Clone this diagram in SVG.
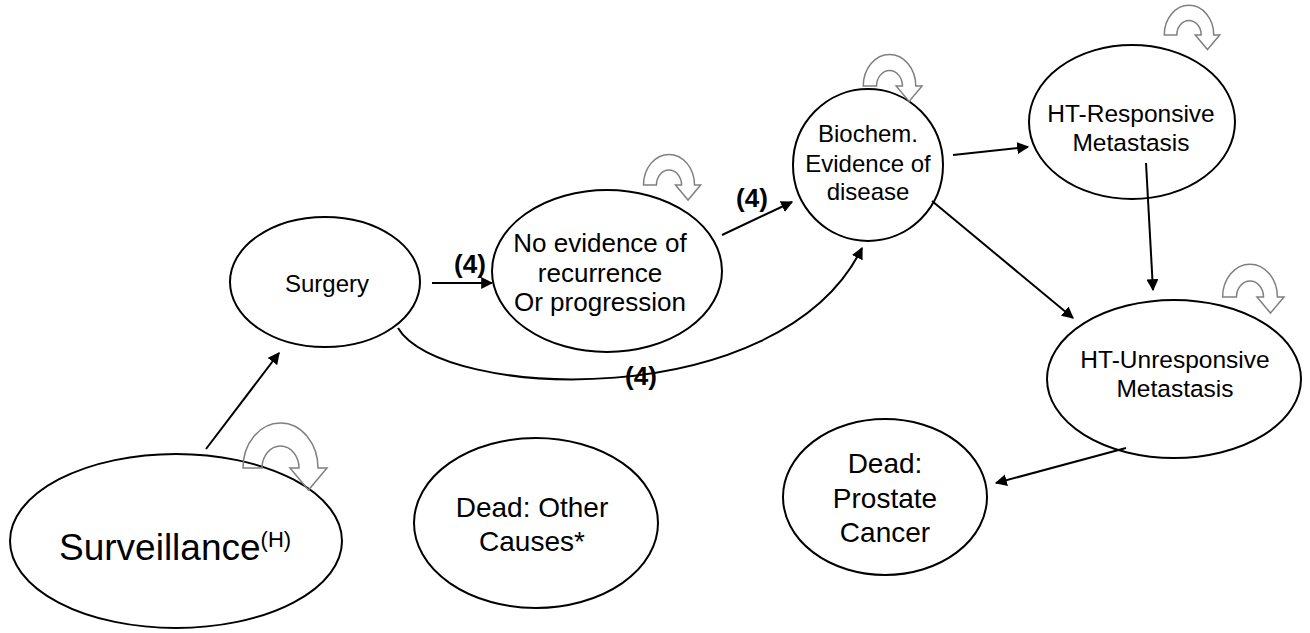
<svg xmlns="http://www.w3.org/2000/svg" xmlns:xlink="http://www.w3.org/1999/xlink" width="1310" height="633" viewBox="0 0 1310 633">
<style>
.node{fill:#fff;stroke:#000;stroke-width:2}
.t{font-family:"Liberation Sans",Arial,sans-serif;fill:#000;text-anchor:middle}
.lbl{font-family:"Liberation Sans",Arial,sans-serif;font-weight:bold;font-size:26px;fill:#000;text-anchor:middle}
.edge{fill:none;stroke:#000;stroke-width:2}
.loop{fill:none;stroke:#808080;stroke-width:1.5}
</style>
<defs>
<marker id="ah" viewBox="0 0 10 10" refX="9" refY="5" markerWidth="6" markerHeight="6" markerUnits="strokeWidth" orient="auto">
<path d="M0,0 L10,5 L0,10 Z" fill="#000"/>
</marker>
<path id="uturn" d="M-37.5,0 A37.5,45 0 0 1 37.5,0 L46.5,0 L28,22 L9.5,0 L18.5,0 A18.5,22 0 0 0 -18.5,0 Z" vector-effect="non-scaling-stroke"/>
</defs>
<rect width="1310" height="633" fill="#fff"/>

<g id="node-surveillance">
<ellipse class="node" cx="176" cy="541" rx="166" ry="87"/>
<text class="t" x="59" y="560" font-size="37" style="text-anchor:start">Surveillance<tspan font-size="22" dy="-13">(H)</tspan></text>
</g>
<g id="node-surgery">
<ellipse class="node" cx="325" cy="282" rx="95" ry="65"/>
<text class="t" x="327" y="292" font-size="24">Surgery</text>
</g>
<g id="node-noevidence">
<ellipse class="node" cx="607" cy="271" rx="115" ry="81"/>
<text class="t" x="600" y="252" font-size="26">No evidence of</text>
<text class="t" x="600" y="282" font-size="26">recurrence</text>
<text class="t" x="600" y="311" font-size="26">Or progression</text>
</g>
<g id="node-biochem">
<ellipse class="node" cx="868" cy="165" rx="75" ry="76"/>
<text class="t" x="868" y="142" font-size="24">Biochem.</text>
<text class="t" x="868" y="172" font-size="24">Evidence of</text>
<text class="t" x="868" y="200" font-size="24">disease</text>
</g>
<g id="node-htresponsive">
<ellipse class="node" cx="1132" cy="122" rx="103" ry="77"/>
<text class="t" x="1131" y="122" font-size="24.5">HT-Responsive</text>
<text class="t" x="1131" y="151" font-size="24.5">Metastasis</text>
</g>
<g id="node-htunresponsive">
<ellipse class="node" cx="1174" cy="379" rx="127" ry="79"/>
<text class="t" x="1175" y="368" font-size="24.5">HT-Unresponsive</text>
<text class="t" x="1175" y="397" font-size="24.5">Metastasis</text>
</g>
<g id="node-deadprostate">
<ellipse class="node" cx="885" cy="497" rx="102" ry="78"/>
<text class="t" x="885" y="473" font-size="28">Dead:</text>
<text class="t" x="885" y="508" font-size="28">Prostate</text>
<text class="t" x="885" y="542" font-size="28">Cancer</text>
</g>
<g id="node-deadother">
<ellipse class="node" cx="536" cy="523" rx="122" ry="85"/>
<text class="t" x="532" y="517" font-size="28">Dead: Other</text>
<text class="t" x="532" y="551" font-size="28">Causes*</text>
</g>

<g id="self-loops">
<use xlink:href="#uturn" class="loop" transform="translate(280.5,468)"/>
<use xlink:href="#uturn" class="loop" transform="translate(669,185) scale(0.68)"/>
<use xlink:href="#uturn" class="loop" transform="translate(889.5,86) scale(0.7)"/>
<use xlink:href="#uturn" class="loop" transform="translate(1189,35) scale(0.66)"/>
<use xlink:href="#uturn" class="loop" transform="translate(1250,297) scale(0.73)"/>
</g>

<g id="connectors">
<line class="edge" x1="206" y1="449" x2="279" y2="353" marker-end="url(#ah)"/>
<line class="edge" x1="432" y1="283" x2="492" y2="283" marker-end="url(#ah)"/>
<line class="edge" x1="722" y1="235" x2="792" y2="202" marker-end="url(#ah)"/>
<path class="edge" d="M398,328 C440,400 780,415 862,248" marker-end="url(#ah)"/>
<line class="edge" x1="953" y1="155" x2="1028" y2="147" marker-end="url(#ah)"/>
<line class="edge" x1="932" y1="201" x2="1073" y2="318" marker-end="url(#ah)"/>
<line class="edge" x1="1146" y1="163" x2="1153" y2="290" marker-end="url(#ah)"/>
<line class="edge" x1="1126" y1="448" x2="996" y2="483" marker-end="url(#ah)"/>
<text class="lbl" x="470" y="273">(4)</text>
<text class="lbl" x="641" y="385">(4)</text>
<text class="lbl" x="752" y="207">(4)</text>
</g>
</svg>
